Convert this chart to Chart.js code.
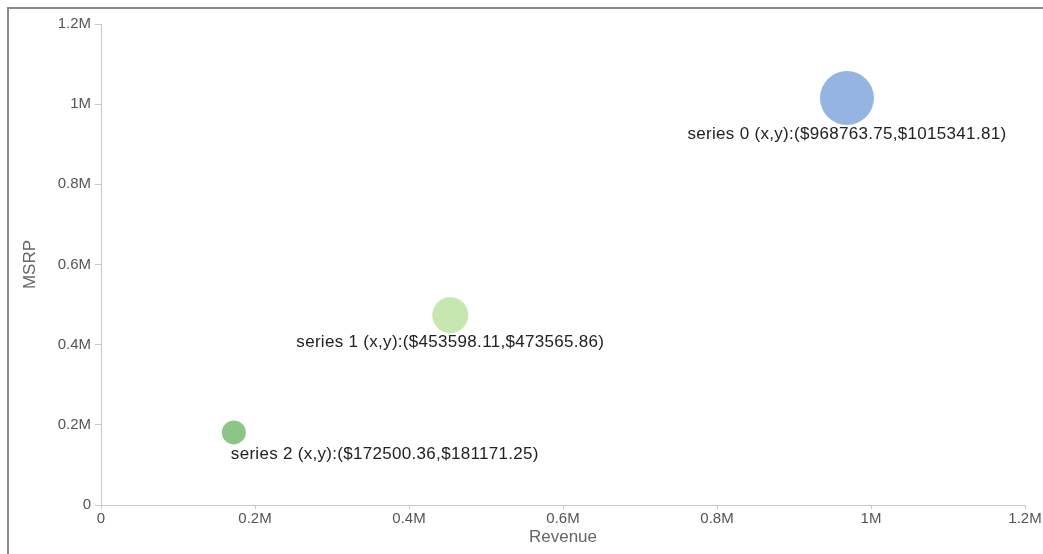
<!DOCTYPE html>
<html>
<head>
<meta charset="utf-8">
<script src="https://cdn.jsdelivr.net/npm/chart.js@4"></script>
<style>
  html, body { margin: 0; padding: 0; background: #fff; }
  #wrap { position: relative; width: 1043px; height: 554px; }
</style>
</head>
<body>
<div id="wrap"><canvas id="c" width="1043" height="554"></canvas></div>
<script>
// ---- data ----
const seriesNames = ['series 0', 'series 1', 'series 2'];
const revenue = [968763.75, 453598.11, 172500.36];
const msrp = [1015341.81, 473565.86, 181171.25];
const bubbleSize = [27, 18, 12];
const seriesColors = ['rgb(149,180,225)', 'rgb(199,231,176)', 'rgb(141,197,134)'];
const tickValues = [0, 200000, 400000, 600000, 800000, 1000000, 1200000];
const tickLabels = ['0', '0.2M', '0.4M', '0.6M', '0.8M', '1M', '1.2M'];
const xTitle = 'Revenue';
const yTitle = 'MSRP';

const FONT = '"Liberation Sans", Arial, sans-serif';

const datasets = seriesNames.map((name, i) => ({
  label: name,
  data: [{ x: revenue[i], y: msrp[i], r: bubbleSize[i] }],
  backgroundColor: seriesColors[i],
  borderWidth: 0,
  hoverBorderWidth: 0
}));

const framePlugin = {
  id: 'frame',
  beforeDraw(chart) {
    const ctx = chart.ctx;
    ctx.save();
    ctx.fillStyle = '#8a8a8a';
    ctx.fillRect(7, 7, chart.width - 7, 2);
    ctx.fillRect(7, 7, 2, chart.height - 7);
    ctx.restore();
  }
};

const labelPlugin = {
  id: 'pointLabels',
  afterDatasetsDraw(chart) {
    const ctx = chart.ctx;
    const area = chart.chartArea;
    ctx.save();
    ctx.font = '17px ' + FONT;
    try { ctx.letterSpacing = '0.3px'; } catch (e) {}
    ctx.fillStyle = '#222';
    ctx.textBaseline = 'top';
    chart.data.datasets.forEach((ds, di) => {
      const meta = chart.getDatasetMeta(di);
      meta.data.forEach((el, pi) => {
        const d = ds.data[pi];
        const text = ds.label + ' (x,y):($' + d.x.toFixed(2) + ',$' + d.y.toFixed(2) + ')';
        const w = ctx.measureText(text).width;
        let x = el.x - w / 2;
        if (x < area.left) x = el.x - 3;
        ctx.textAlign = 'left';
        ctx.fillText(text, x, el.y + d.r + 1);
      });
    });
    ctx.restore();
  }
};

new Chart(document.getElementById('c'), {
  type: 'bubble',
  data: { datasets },
  options: {
    responsive: false,
    animation: false,
    events: [],
    layout: { autoPadding: false, padding: { top: 24, right: 18, bottom: 0, left: 0 } },
    plugins: { legend: { display: false }, tooltip: { enabled: false } },
    scales: {
      x: {
        type: 'linear',
        min: 0, max: 1200000,
        afterBuildTicks(scale) { scale.ticks = tickValues.map(v => ({ value: v })); },
        afterFit(scale) { scale.height = 49; scale.paddingLeft = 0; scale.paddingRight = 0; },
        grid: { drawOnChartArea: false, drawTicks: true, tickLength: 4, color: '#c8c8c8' },
        border: { color: '#c8c8c8', width: 1 },
        ticks: {
          padding: 1,
          color: '#555',
          font: { family: FONT, size: 15 },
          maxRotation: 0,
          callback: (v, i) => tickLabels[i]
        },
        title: {
          display: true, text: xTitle, color: '#666',
          font: { family: FONT, size: 17 },
          padding: { top: 0, bottom: 6 }
        }
      },
      y: {
        type: 'linear',
        min: 0, max: 1200000,
        afterBuildTicks(scale) { scale.ticks = tickValues.map(v => ({ value: v })); },
        afterFit(scale) { scale.width = 101; scale.paddingTop = 0; scale.paddingBottom = 0; },
        grid: { drawOnChartArea: false, drawTicks: true, tickLength: 6, color: '#c8c8c8' },
        border: { color: '#c8c8c8', width: 1 },
        ticks: {
          padding: 4,
          color: '#555',
          font: { family: FONT, size: 15 },
          callback: (v, i) => tickLabels[i]
        },
        title: {
          display: true, text: yTitle, color: '#666',
          font: { family: FONT, size: 17 },
          padding: { top: 20, bottom: 0 }
        }
      }
    }
  },
  plugins: [framePlugin, labelPlugin]
});
</script>
</body>
</html>
